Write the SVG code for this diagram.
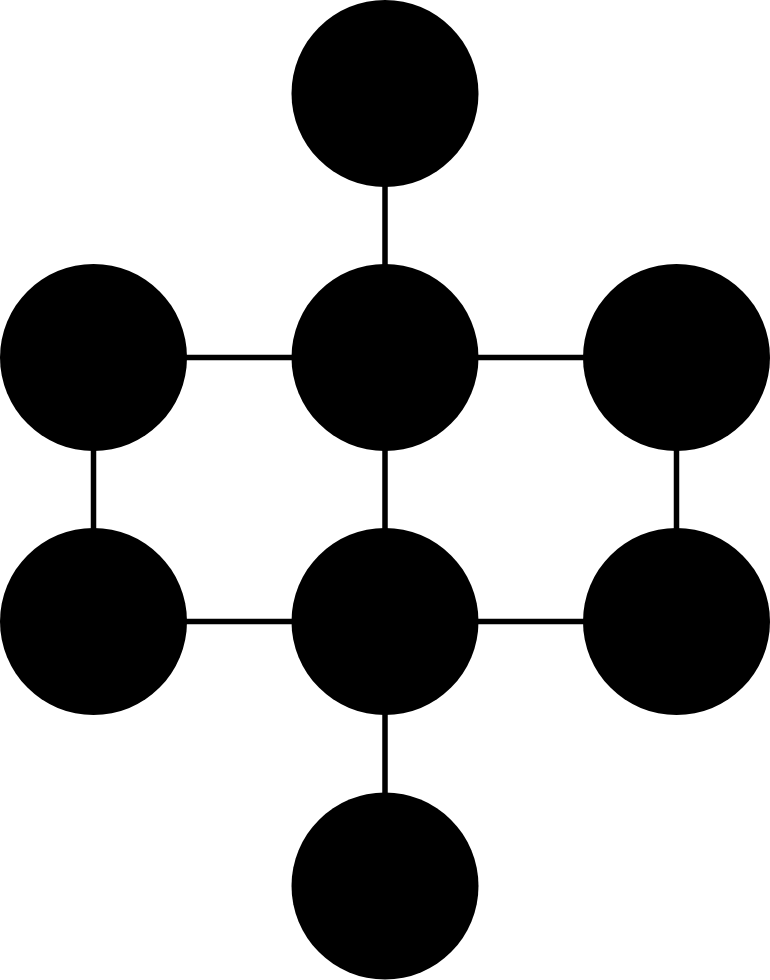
<svg xmlns="http://www.w3.org/2000/svg" width="770" height="980" viewBox="0 0 770 980">
<style>
.n{fill:#000}
.e{stroke:#000;stroke-width:5.5;fill:none}
</style>
<rect width="770" height="980" fill="#fff"/>
<g id="edges">
<line class="e" x1="385" y1="93" x2="385" y2="886"/>
<line class="e" x1="93.5" y1="357.5" x2="676.5" y2="357.5"/>
<line class="e" x1="93.5" y1="621.5" x2="676.5" y2="621.5"/>
<line class="e" x1="93.5" y1="357.5" x2="93.5" y2="621.5"/>
<line class="e" x1="676.5" y1="357.5" x2="676.5" y2="621.5"/>
</g>
<g id="n-top"><circle class="n" cx="385" cy="93.5" r="93.5"/></g>
<g id="n-r1-left"><circle class="n" cx="93.5" cy="357.5" r="93.5"/></g>
<g id="n-r1-mid"><circle class="n" cx="385" cy="357.5" r="93.5"/></g>
<g id="n-r1-right"><circle class="n" cx="676.5" cy="357.5" r="93.5"/></g>
<g id="n-r2-left"><circle class="n" cx="93.5" cy="621.5" r="93.5"/></g>
<g id="n-r2-mid"><circle class="n" cx="385" cy="621.5" r="93.5"/></g>
<g id="n-r2-right"><circle class="n" cx="676.5" cy="621.5" r="93.5"/></g>
<g id="n-bottom"><circle class="n" cx="385" cy="886" r="93.5"/></g>
</svg>
